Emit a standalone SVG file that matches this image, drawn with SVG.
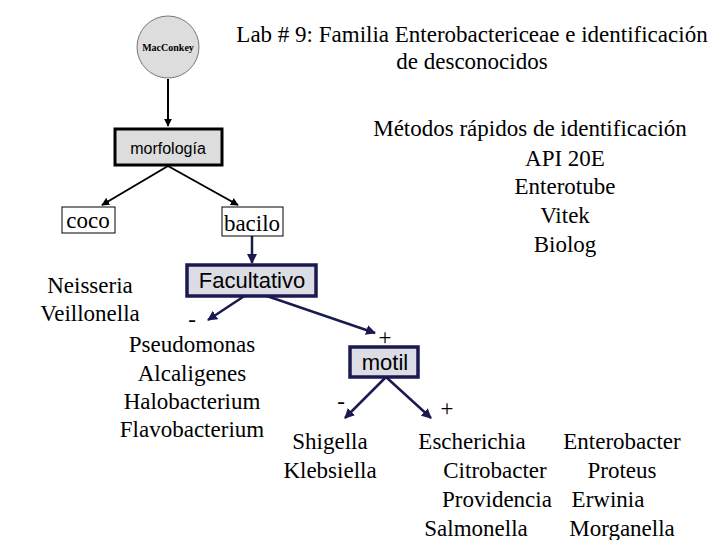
<svg xmlns="http://www.w3.org/2000/svg" width="720" height="540" viewBox="0 0 720 540">
<style>
.s{font-family:"Liberation Serif","Times New Roman",serif;font-size:23px;fill:#000}
.a{font-family:"Liberation Sans",sans-serif;fill:#000}
.k{stroke:#000;stroke-width:2;fill:none}
.n{stroke:#1a1a50;stroke-width:2.5;fill:none}
</style>
<defs>
<marker id="mk" viewBox="0 0 10 10" refX="9" refY="5" markerWidth="4" markerHeight="4" orient="auto"><path d="M0,0L10,5L0,10z" fill="#000"/></marker>
<marker id="mn" viewBox="0 0 10 10" refX="9" refY="5" markerWidth="4" markerHeight="4" orient="auto"><path d="M0,0L10,5L0,10z" fill="#1a1a50"/></marker>
</defs>
<rect width="720" height="540" fill="#fff"/>
<g id="title">
<text class="s" x="472" y="42" text-anchor="middle">Lab # 9: Familia Enterobactericeae e identificación</text>
<text class="s" x="472" y="69" text-anchor="middle">de desconocidos</text>
</g>
<g id="metodos">
<text class="s" x="530" y="136" text-anchor="middle">Métodos rápidos de identificación</text>
<text class="s" x="565" y="166" text-anchor="middle">API 20E</text>
<text class="s" x="565" y="194" text-anchor="middle">Enterotube</text>
<text class="s" x="565" y="223" text-anchor="middle">Vitek</text>
<text class="s" x="565" y="252" text-anchor="middle">Biolog</text>
</g>
<g id="connectors">
<line class="k" x1="168" y1="79" x2="168" y2="126" marker-end="url(#mk)"/>
<line class="k" x1="168" y1="166" x2="102" y2="205" marker-end="url(#mk)"/>
<line class="k" x1="168" y1="166" x2="238" y2="205" marker-end="url(#mk)"/>
<line class="n" x1="252" y1="236" x2="252" y2="263" marker-end="url(#mn)"/>
<line class="n" x1="252" y1="291" x2="208" y2="320" marker-end="url(#mn)"/>
<line class="n" x1="252" y1="291" x2="375" y2="333" marker-end="url(#mn)"/>
<line class="n" x1="386" y1="377" x2="345" y2="418" marker-end="url(#mn)"/>
<line class="n" x1="386" y1="377" x2="431" y2="418" marker-end="url(#mn)"/>
</g>
<g id="macconkey">
<circle cx="168" cy="47" r="31" fill="#ddd" stroke="#777" stroke-width="1"/>
<text x="168" y="51" text-anchor="middle" style="font-family:'Liberation Serif',serif;font-size:10px;font-weight:bold">MacConkey</text>
</g>
<g id="morfologia">
<rect x="115" y="129" width="107" height="36" fill="#ddd" stroke="#000" stroke-width="3"/>
<text class="a" x="168" y="154" text-anchor="middle" font-size="16">morfología</text>
</g>
<g id="coco">
<rect x="62" y="207" width="53" height="26" fill="#fff" stroke="#000" stroke-width="1"/>
<text class="s" x="88" y="228" text-anchor="middle">coco</text>
</g>
<g id="bacilo">
<rect x="222" y="207" width="61" height="29" fill="#fff" stroke="#000" stroke-width="1"/>
<text class="s" x="252" y="231" text-anchor="middle">bacilo</text>
</g>
<g id="neisseria">
<text class="s" x="90" y="293" text-anchor="middle">Neisseria</text>
<text class="s" x="90" y="321" text-anchor="middle">Veillonella</text>
</g>
<g id="facultativo">
<rect x="187" y="265" width="129" height="31" fill="#dcdce4" stroke="#1a1a50" stroke-width="3.5"/>
<text class="a" x="252" y="288" text-anchor="middle" font-size="22">Facultativo</text>
</g>
<g id="neg1">
<text class="s" x="192" y="327" text-anchor="middle">-</text>
<text class="s" x="192" y="352" text-anchor="middle">Pseudomonas</text>
<text class="s" x="192" y="381" text-anchor="middle">Alcaligenes</text>
<text class="s" x="192" y="409" text-anchor="middle">Halobacterium</text>
<text class="s" x="192" y="437" text-anchor="middle">Flavobacterium</text>
</g>
<text class="s" x="385" y="345" text-anchor="middle">+</text>
<g id="motil">
<rect x="350" y="347" width="68" height="30" fill="#dcdce4" stroke="#1a1a50" stroke-width="3.5"/>
<text class="a" x="385" y="370" text-anchor="middle" font-size="22">motil</text>
</g>
<text class="s" x="341" y="409" text-anchor="middle">-</text>
<text class="s" x="447" y="416" text-anchor="middle">+</text>
<g id="neg2">
<text class="s" x="330" y="449" text-anchor="middle">Shigella</text>
<text class="s" x="330" y="478" text-anchor="middle">Klebsiella</text>
</g>
<g id="pos2">
<text class="s" x="472" y="449" text-anchor="middle">Escherichia</text>
<text class="s" x="495" y="478" text-anchor="middle">Citrobacter</text>
<text class="s" x="497" y="507" text-anchor="middle">Providencia</text>
<text class="s" x="476" y="536" text-anchor="middle">Salmonella</text>
<text class="s" x="622" y="449" text-anchor="middle">Enterobacter</text>
<text class="s" x="622" y="478" text-anchor="middle">Proteus</text>
<text class="s" x="608" y="507" text-anchor="middle">Erwinia</text>
<text class="s" x="622" y="536" text-anchor="middle">Morganella</text>
</g>
</svg>
